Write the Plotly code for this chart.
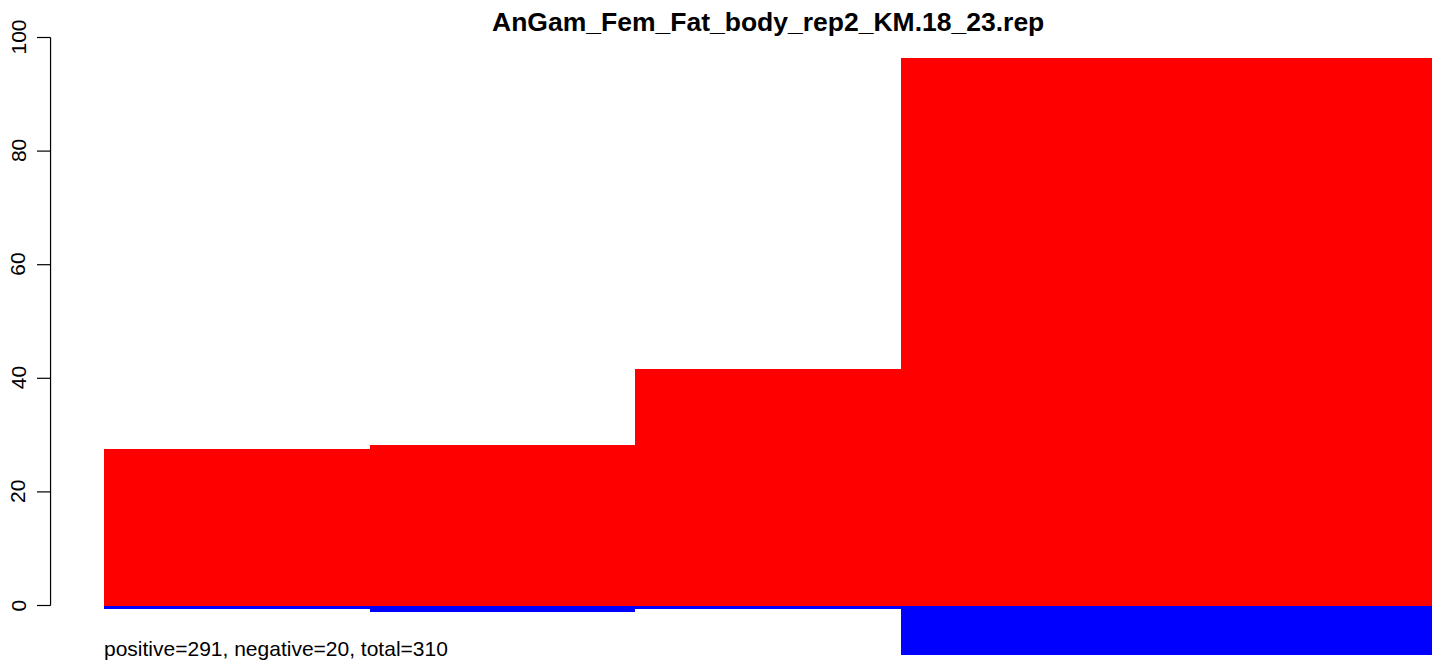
import plotly.graph_objects as go

# Bin data: relative widths and positive / negative values per bin
bin_widths = [1, 1, 1, 2]
positive_vals = [27.5, 28.3, 41.6, 96.4]
negative_vals = [-0.6, -1.1, -0.6, -8.7]
y_ticks = [0, 20, 40, 60, 80, 100]
title_text = "AnGam_Fem_Fat_body_rep2_KM.18_23.rep"
summary_text = "positive=291, negative=20, total=310"

# bar centres from cumulative widths
centers = []
left = 0.0
for w in bin_widths:
    centers.append(left + w / 2)
    left += w

W, H = 1439, 661
ML = 50
FONT = "Liberation Sans, Arial"
fig = go.Figure()
fig.add_trace(go.Bar(x=centers, y=positive_vals, width=bin_widths, base=0,
                     marker=dict(color="#FF0000", line=dict(width=0)), showlegend=False))
fig.add_trace(go.Bar(x=centers, y=negative_vals, width=bin_widths, base=0,
                     marker=dict(color="#0000FF", line=dict(width=0)), showlegend=False))

px_per_x = 265.6
bar_left_px = 104
x_lo = (ML - bar_left_px) / px_per_x
x_hi = (W - bar_left_px) / px_per_x
px_per_y = 5.68
zero_px = 605.5
y_hi = zero_px / px_per_y
y_lo = -(H - zero_px) / px_per_y

shapes = [dict(type="line", xref="paper", yref="y", x0=0.0004, x1=0.0004, y0=0, y1=100,
               line=dict(color="black", width=1.2))]
annotations = []
for t in y_ticks:
    shapes.append(dict(type="line", xref="paper", yref="y", x0=-13 / (W - ML), x1=0.0004,
                       y0=t, y1=t, line=dict(color="black", width=1.2)))
    annotations.append(dict(text=str(t), xref="paper", yref="y", x=-32 / (W - ML), y=t,
                            showarrow=False, textangle=-90, xanchor="center", yanchor="middle",
                            font=dict(family=FONT, size=21, color="black")))

annotations.append(dict(text="<b>" + title_text + "</b>", xref="paper", yref="paper",
                        x=(768 - ML) / (W - ML), y=1 - 22 / H, showarrow=False,
                        xanchor="center", yanchor="middle",
                        font=dict(family=FONT, size=26.5, color="black")))
annotations.append(dict(text=summary_text, xref="x", yref="paper", x=0, y=1 - 648 / H,
                        xshift=-2, showarrow=False, xanchor="left", yanchor="middle",
                        font=dict(family=FONT, size=21, color="black")))

fig.update_layout(
    width=W, height=H, barmode="overlay", bargap=0,
    margin=dict(l=ML, r=0, t=0, b=0),
    plot_bgcolor="white", paper_bgcolor="white",
    xaxis=dict(range=[x_lo, x_hi], visible=False, fixedrange=True),
    yaxis=dict(range=[y_lo, y_hi], visible=False, fixedrange=True),
    shapes=shapes, annotations=annotations,
)
fig.write_html("out.html", config={"displayModeBar": False})
